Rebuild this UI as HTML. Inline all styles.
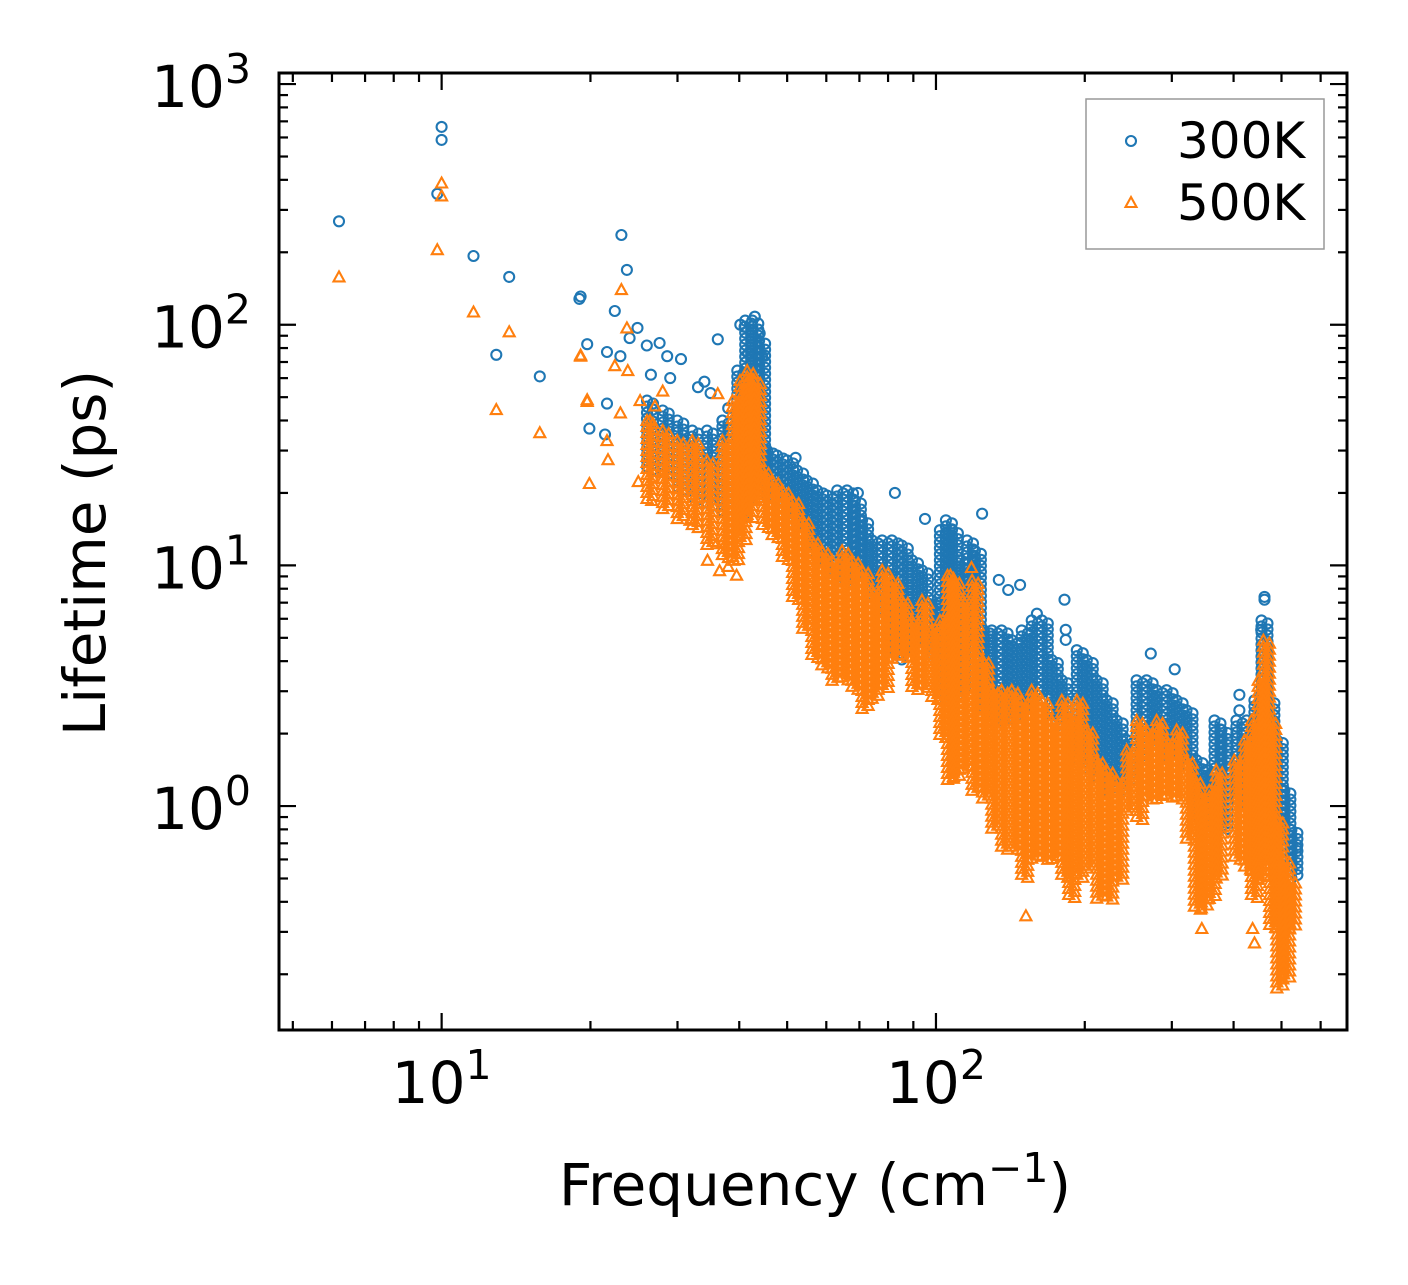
<!DOCTYPE html>
<html><head><meta charset="utf-8"><style>
html,body{margin:0;padding:0;background:#fff;}
svg text{font-family:"DejaVu Sans","Liberation Sans",sans-serif;fill:#000;}
</style></head><body>
<svg id="chart" width="1408" height="1280" viewBox="0 0 1408 1280" xmlns="http://www.w3.org/2000/svg">
<rect x="0" y="0" width="1408" height="1280" fill="#fff"/>
<g id="marks"></g>
<g id="axes"></g>
<text x="815" y="1205" font-size="58" text-anchor="middle">Frequency (cm<tspan dy="-23" font-size="41">−1</tspan><tspan dy="23">)</tspan></text>
<text transform="translate(105,553) rotate(-90)" font-size="58" text-anchor="middle">Lifetime (ps)</text>
<g>
<rect x="1086" y="99" width="238" height="150" fill="#fff" stroke="#999" stroke-width="1.5"/>
<circle cx="1131" cy="141" r="5" fill="none" stroke="#1f77b4" stroke-width="2.1"/>
<text x="1177" y="158" font-size="50">300K</text>
<path d="M1131,197 L1136.5,207 L1125.5,207 Z" fill="none" stroke="#ff7f0e" stroke-width="2.1"/>
<text x="1177" y="220" font-size="50">500K</text>
</g>
</svg>
<script>
// 300K isolated points [freq, lifetime]
const blueFreq = [6.2,10,10,9.8,11.6,13.7,12.9,15.8,19.1,19.0,19.7,23.1,23.7,22.4,21.6,23,21.6,19.9,21.4,24.9,24,26,27.6,28.6,26.5,29,30.5,36.2,34,33,35,37,40.2,41,43,44,41.7,44.5,38,31,28,52,69.5,82.6,95,182,183,183,124,134,140,148,160,272,304,411,411,462,462,455,537];
const blueLife = [269,664,586,350,193,158,75,61,131,128,83,236,169,114,77,74,47,37,35,97,88,82,84,74,62,60,72,87,58,55,52,40,100,98,108,92,76,74,45,33,35,28,20,20,15.6,7.2,5.4,4.9,16.4,8.7,7.9,8.3,6.3,4.3,3.7,2.9,2.5,7.4,7.2,5.4,0.67];
// 300K dense streaks: freq, low lifetime, high lifetime
const blueStreakFreq = [26.4,28.4,30.4,32.6,34.9,37.5,40.2,41.7,43.1,44.5,46.2,48.4,50.7,53.1,55.6,58.3,61.1,64.0,67.0,69.5,71.9,75.3,78.9,82.6,86.5,90.7,95.0,99.5,103.3,106.2,109.2,112.9,117.2,121.6,126.8,131.5,137.7,144.4,151.2,158.4,166.0,173.9,182.2,195.4,204.7,214.4,224.6,235.3,246.5,258.2,270.5,283.4,296.9,311.0,325.8,341.3,357.6,371.2,383.5,411,431,447,462,477,496,514,531];
const blueStreakLo = [24.8,23.6,20.5,18.6,17.7,16.9,15.4,18.6,24.8,22.5,18.6,17.7,15.4,14.0,12.1,10.5,9.09,8.67,8.26,8.67,8.67,7.16,5.91,4.44,4.04,4.44,4.89,4.04,3.03,2.75,2.75,3.03,4.89,4.44,2.50,2.27,2.27,2.27,2.50,2.75,2.75,2.27,1.88,1.55,1.41,1.28,1.16,1.16,1.28,1.55,1.71,1.71,1.55,1.55,1.41,0.875,0.795,0.875,0.795,1.06,0.963,0.875,0.795,0.723,0.657,0.542,0.493];
const blueStreakHi = [48.4,44.0,40.0,36.3,36.3,40.0,64.5,104,104,85.8,30.0,28.6,27.3,24.8,22.5,20.5,19.5,20.5,20.5,18.6,15.4,12.7,12.7,12.7,12.1,10.5,9.53,7.16,14.0,15.4,14.0,10.5,12.7,11.5,5.37,5.37,5.37,4.89,5.37,5.91,5.91,4.04,3.33,4.44,4.04,3.33,2.75,2.27,1.88,3.33,3.33,3.03,3.03,2.75,2.50,1.55,1.41,2.27,2.07,2.27,2.27,2.75,5.91,2.75,1.88,1.16,0.795];
// 500K isolated points
const orangeFreq = [6.2,10,10,9.8,11.6,13.7,12.9,15.8,19.1,19.1,19.7,19.7,19.9,21.7,21.6,23.1,23.7,22.4,23.8,23,25,26.6,27.7,26.4,25.2,28,27,36.2,31.8,36,39,34.5,36.5,38,39.5,107,118,152,195,345,437,441];
const orangeLife = [158,388,343,205,113,93.5,44.4,35.6,74.8,74,48.8,48,21.9,27.5,33,140,97,67.6,64.5,43,22.3,18.6,23,40,48.4,53,46,51.7,15.4,12.3,10.5,10.5,9.5,9.9,9.1,9.1,9.8,0.35,0.57,0.31,0.31,0.27];
// 500K dense streaks
const orangeStreakFreq = [26.4,28.4,30.4,32.6,34.9,37.5,39.3,40.7,42.1,43.5,45.2,47.3,49.6,52.0,54.5,56.9,59.6,62.5,65.5,68.6,71.9,75.3,78.9,82.6,86.5,90.7,95.0,99.5,103.3,107,110,115,120,126,131.5,137.7,144.4,151.2,158.4,166.0,173.9,182.2,188.2,195.4,204.7,214.4,224.6,235.3,246.5,258.2,270.5,283.4,296.9,311.0,325.8,338,349,362,374,407,427,441,455,466,480,496,512,526];
const orangeStreakLo = [18.6,16.9,15.4,14.0,12.1,10.5,10.5,12.7,15.4,18.6,14.0,12.7,10.5,7.16,5.37,4.04,3.67,3.33,3.33,3.03,2.50,2.75,3.03,4.04,4.04,3.03,3.03,2.75,1.88,1.28,1.28,1.41,1.16,1.06,0.795,0.657,0.657,0.493,0.597,0.597,0.597,0.493,0.407,0.493,0.542,0.407,0.407,0.493,0.963,0.875,1.06,1.06,1.06,1.06,0.723,0.370,0.370,0.407,0.493,0.597,0.542,0.407,0.493,0.597,0.306,0.172,0.19,0.306];
const orangeStreakHi = [40.0,36.3,33.0,33.0,27.3,33.0,48.4,58.6,64.5,58.6,24.8,22.5,20.5,18.6,15.4,12.7,11.5,10.5,11.5,10.5,9.53,7.88,9.53,8.67,7.16,5.91,7.16,5.37,5.91,9.09,8.67,7.16,8.67,4.04,3.03,3.03,3.03,2.75,3.03,2.75,2.27,2.75,2.27,2.75,2.07,1.55,1.41,1.28,1.71,2.27,2.07,2.27,1.88,2.07,1.55,1.28,1.06,1.16,1.41,1.55,1.88,2.27,3.33,4.89,2.27,0.875,0.597,0.493];
const xTickLabels = ["1","2"];
const yTickLabels = ["0","1","2","3"];

const NS = "http://www.w3.org/2000/svg";
const X0 = 279, X1 = 1347, Y0 = 73, Y1 = 1030;
const LX0 = 0.671, LX1 = 2.8315, LY0 = -0.9306, LY1 = 3.046;
function xs(f){ return X0 + (Math.log10(f) - LX0) / (LX1 - LX0) * (X1 - X0); }
function ys(v){ return Y1 - (Math.log10(v) - LY0) / (LY1 - LY0) * (Y1 - Y0); }
const marks = document.getElementById('marks');
const axes = document.getElementById('axes');
const clip = document.createElementNS(NS,'clipPath'); clip.setAttribute('id','pc');
const cr = document.createElementNS(NS,'rect');
cr.setAttribute('x',X0); cr.setAttribute('y',Y0); cr.setAttribute('width',X1-X0); cr.setAttribute('height',Y1-Y0);
clip.appendChild(cr); document.getElementById('chart').appendChild(clip);
marks.setAttribute('clip-path','url(#pc)');

function circ(g,x,y){
  const c = document.createElementNS(NS,'circle');
  c.setAttribute('cx',x.toFixed(1)); c.setAttribute('cy',y.toFixed(1)); c.setAttribute('r',5);
  c.setAttribute('fill','none'); c.setAttribute('stroke','#1f77b4'); c.setAttribute('stroke-width',2.1);
  
  
  g.appendChild(c);
}
function tri(g,x,y){
  const p = document.createElementNS(NS,'path');
  p.setAttribute('d',`M${x.toFixed(1)},${(y-5.5).toFixed(1)} L${(x+5.5).toFixed(1)},${(y+4.5).toFixed(1)} L${(x-5.5).toFixed(1)},${(y+4.5).toFixed(1)} Z`);
  p.setAttribute('fill','none'); p.setAttribute('stroke','#ff7f0e'); p.setAttribute('stroke-width',2.1);
  
  
  g.appendChild(p);
}
function series(name, fr, li, sf, slo, shi, fn){
  const g = document.createElementNS(NS,'g');
  
  
  marks.appendChild(g);
  for(let i=0;i<sf.length;i++){
    const x = xs(sf[i]), ya = ys(shi[i]), yb = ys(slo[i]);
    let k=0;
    for(let y=ya;y<=yb+0.1;y+=3){ fn(g, x + (k%2? 3:-3), y); k++; }
  }
  for(let i=0;i<fr.length;i++) fn(g, xs(fr[i]), ys(li[i]));
}
series('series-300k', blueFreq, blueLife, blueStreakFreq, blueStreakLo, blueStreakHi, circ);
series('series-500k', orangeFreq, orangeLife, orangeStreakFreq, orangeStreakLo, orangeStreakHi, tri);

function line(x1,y1,x2,y2,w,name){
  const l = document.createElementNS(NS,'line');
  l.setAttribute('x1',x1); l.setAttribute('y1',y1); l.setAttribute('x2',x2); l.setAttribute('y2',y2);
  l.setAttribute('stroke','#000'); l.setAttribute('stroke-width',w);
  
  
  axes.appendChild(l);
}
for(let d=0; d<=2; d++){
  for(let m=1;m<=9;m++){
    const v = m*Math.pow(10,d); const x = xs(v);
    if(x<X0+1||x>X1-1) continue;
    const L = m===1?17:9;
    line(x,Y1,x,Y1-L,2.2,'x-tick'); line(x,Y0,x,Y0+L,2.2,'x-tick-top');
  }
}
for(let d=-1; d<=3; d++){
  for(let m=1;m<=9;m++){
    const v = m*Math.pow(10,d); const y = ys(v);
    if(y<Y0+1||y>Y1-1) continue;
    const L = m===1?17:9;
    line(X0,y,X0+L,y,2.2,'y-tick'); line(X1,y,X1-L,y,2.2,'y-tick-right');
  }
}
const frame = document.createElementNS(NS,'rect');
frame.setAttribute('x',X0); frame.setAttribute('y',Y0); frame.setAttribute('width',X1-X0); frame.setAttribute('height',Y1-Y0);
frame.setAttribute('fill','none'); frame.setAttribute('stroke','#000'); frame.setAttribute('stroke-width',3);


axes.appendChild(frame);
xTickLabels.forEach(e=>{
  const t = document.createElementNS(NS,'text');
  t.setAttribute('x', xs(Math.pow(10,+e))); t.setAttribute('y', 1103);
  t.setAttribute('text-anchor','middle'); t.setAttribute('font-size',58);
  t.innerHTML = `10<tspan dy="-24" font-size="41">${e}</tspan>`;
  
  
  axes.appendChild(t);
});
yTickLabels.forEach(e=>{
  const t = document.createElementNS(NS,'text');
  t.setAttribute('x', 251); t.setAttribute('y', ys(Math.pow(10,+e))+23);
  t.setAttribute('text-anchor','end'); t.setAttribute('font-size',58);
  t.innerHTML = `10<tspan dy="-24" font-size="41">${e}</tspan>`;
  
  
  axes.appendChild(t);
});
</script>
</body></html>
